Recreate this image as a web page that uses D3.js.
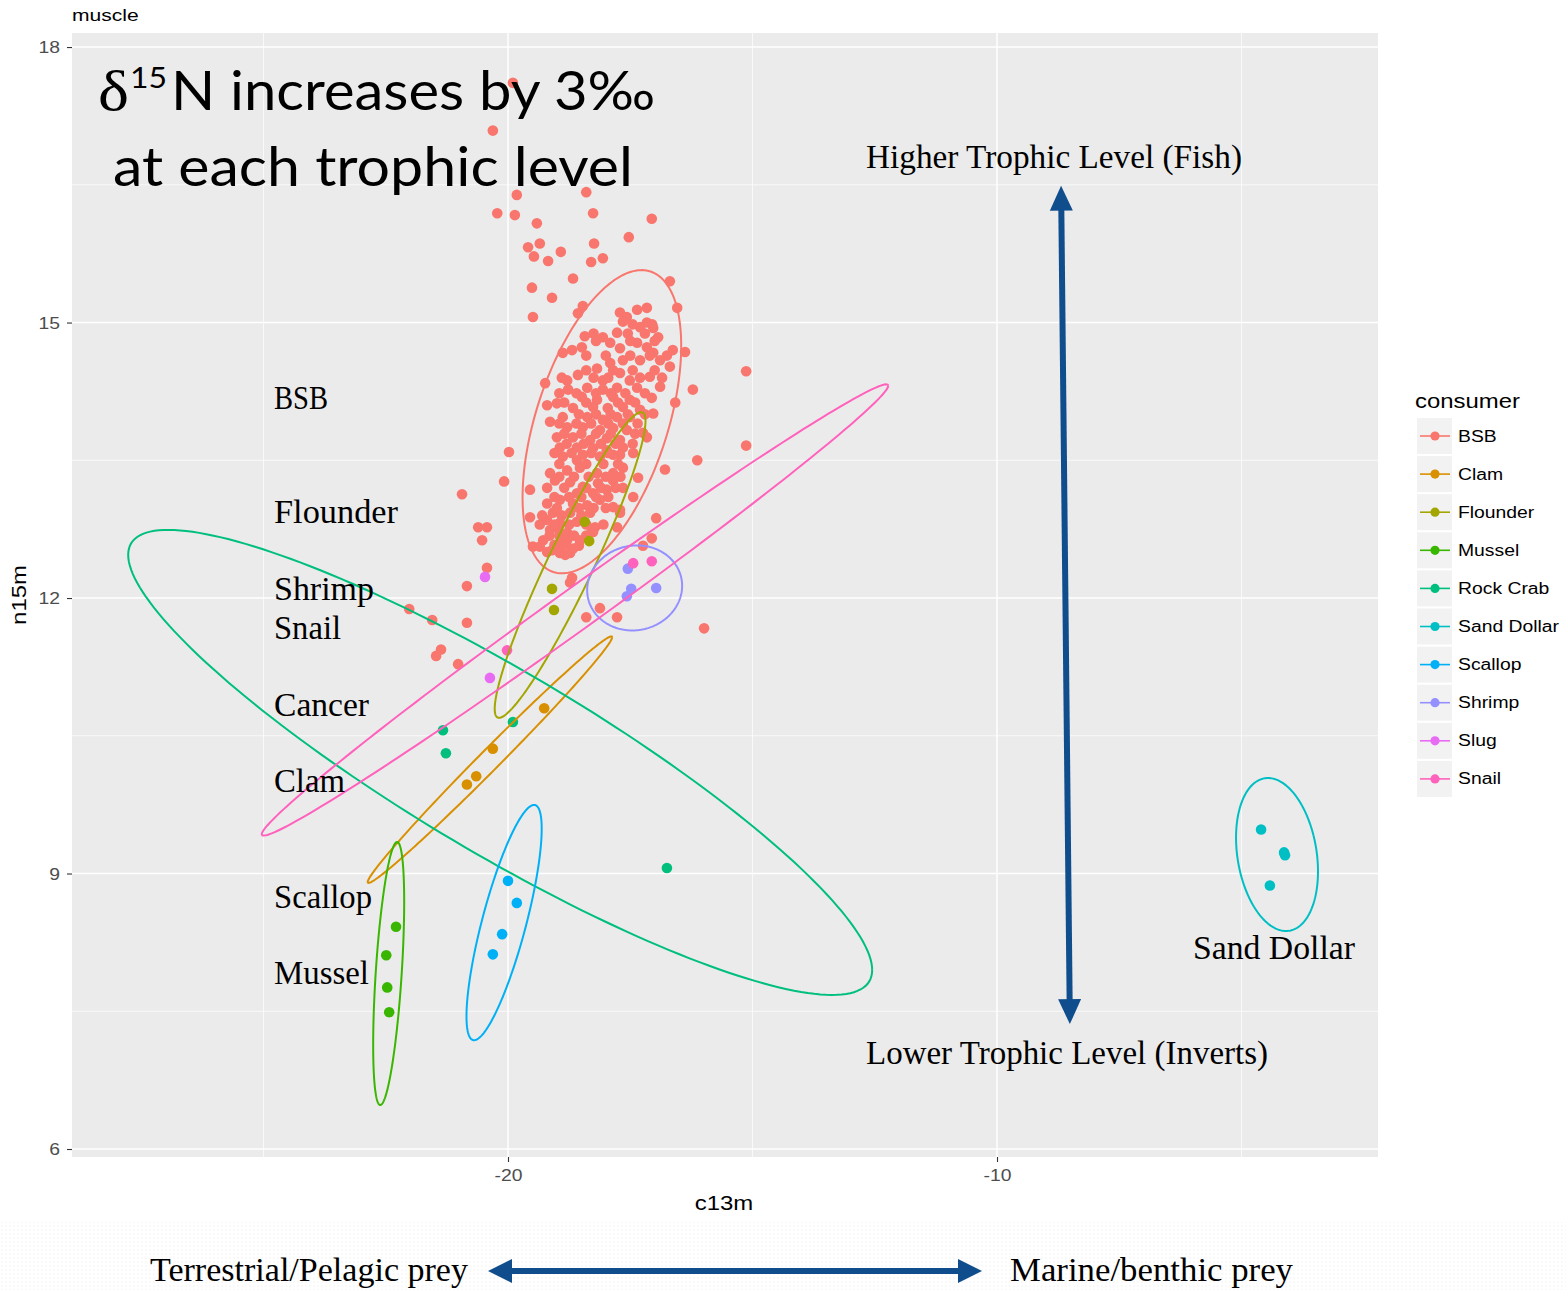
<!DOCTYPE html>
<html><head><meta charset="utf-8">
<script src="https://cdn.jsdelivr.net/npm/d3@7"></script>
<style>body{margin:0;background:#fff}</style>
</head><body>
<svg id="c" width="1566" height="1290"></svg>
<script>
// ---------------- DATA ----------------
const consumers = ["BSB","Clam","Flounder","Mussel","Rock Crab","Sand Dollar","Scallop","Shrimp","Slug","Snail"];
const palette   = ["#F8766D","#D89000","#A3A500","#39B600","#00BF7D","#00BFC4","#00B0F6","#9590FF","#E76BF3","#FF62BC"];

const xTicks = [-20,-10];
const xMinor = [-25,-15,-5];
const yTicks = [6,9,12,15,18];
const yMinor = [7.5,10.5,13.5,16.5];

// c13m, n15m
const bsb = [
 [-19.90,17.61],[-20.31,17.09],[-20.22,16.19],[-19.82,16.39],[-19.86,16.17],[-18.40,16.42],[-18.26,16.19],
 [-19.41,16.08],[-17.06,16.13],[-17.53,15.93],[-19.59,15.82],[-19.35,15.86],[-19.47,15.72],[-19.18,15.67],
 [-18.92,15.77],[-18.24,15.86],[-18.30,15.66],[-18.06,15.70],[-18.67,15.48],[-19.51,15.38],[-19.10,15.27],
 [-16.69,15.45],[-18.47,15.18],[-18.57,15.10],[-19.49,15.06],[-16.54,15.16],[-15.13,14.47],[-16.22,14.27],
 [-15.13,13.66],[-16.13,13.50],[-16.79,13.40],[-19.98,13.59],[-20.08,13.27],[-20.94,13.13],[-20.61,12.77],
 [-20.43,12.77],[-20.53,12.63],[-20.43,12.33],[-20.84,12.13],[-22.02,11.88],[-21.55,11.76],[-20.84,11.73],
 [-21.37,11.44],[-21.47,11.37],[-21.02,11.28],[-16.97,12.87],[-17.06,12.65],[-17.24,12.57],[-18.12,11.89],
 [-17.77,11.79],[-18.40,11.79],[-15.99,11.67],[-18.69,12.22],[-18.73,12.17],[-18.28,12.73],[-18.55,12.57],
 [-17.71,15.11],[-17.57,15.06],[-17.36,15.14],[-17.16,15.16],[-18.43,14.85],[-18.06,14.84],[-17.77,14.89],
 [-17.65,15.01],[-17.30,14.95],[-17.16,15.00],[-17.03,14.94],[-16.93,14.84],[-18.88,14.67],[-18.69,14.70],
 [-18.49,14.73],[-17.91,14.78],[-17.71,14.72],[-17.36,14.78],[-17.16,14.73],[-17.03,14.67],[-16.63,14.70],
 [-16.38,14.68],[-18.18,14.50],[-17.91,14.56],[-17.65,14.59],[-17.30,14.59],[-16.89,14.59],[-16.69,14.52],
 [-19.24,14.34],[-18.79,14.37],[-18.57,14.43],[-18.06,14.37],[-17.71,14.45],[-17.51,14.37],[-17.10,14.41],
 [-16.89,14.30],[-18.77,14.27],[-18.38,14.29],[-18.06,14.27],[-17.77,14.29],[-17.36,14.29],[-18.49,14.19],
 [-18.18,14.16],[-17.85,14.19],[-17.51,14.16],[-17.06,14.18],[-16.58,14.13],[-19.20,14.10],[-19.00,14.12],
 [-18.67,14.07],[-18.26,14.08],[-17.96,14.07],[-17.65,14.08],[-17.30,14.05],[-17.03,14.01],[-19.14,13.92],
 [-18.88,13.97],[-18.38,13.97],[-18.06,13.94],[-17.77,13.97],[-17.51,13.97],[-18.79,13.86],[-18.47,13.86],
 [-18.12,13.83],[-17.85,13.85],[-17.57,13.83],[-17.24,13.80],[-19.00,13.75],[-18.67,13.75],[-18.32,13.72],
 [-17.98,13.74],[-17.71,13.72],[-17.16,13.75],[-18.94,13.64],[-18.59,13.64],[-18.26,13.63],[-17.98,13.61],
 [-17.65,13.64],[-18.88,13.54],[-18.47,13.56],[-18.12,13.54],[-17.71,13.56],[-17.44,13.58],[-18.59,13.50],
 [-17.85,13.56],[-19.14,13.36],[-18.79,13.39],[-18.53,13.42],[-18.18,13.36],[-17.85,13.36],[-17.65,13.42],
 [-19.04,13.28],[-18.73,13.26],[-18.47,13.21],[-18.16,13.25],[-17.85,13.28],[-18.59,13.14],[-18.26,13.14],
 [-17.98,13.18],[-17.65,13.20],[-17.44,13.10],[-19.20,13.03],[-18.94,13.07],[-18.67,13.03],[-18.38,13.01],
 [-18.12,13.07],[-17.85,12.99],[-19.08,12.93],[-18.73,12.93],[-18.32,12.93],[-17.71,12.93],[-19.20,12.85],
 [-18.94,12.82],[-18.59,12.83],[-18.22,12.77],[-17.77,12.77],[-19.14,12.74],[-18.79,12.71],[-18.53,12.63],
 [-18.26,12.72],[-19.28,12.63],[-18.94,12.60],[-19.49,12.56],[-19.10,12.52],[-18.73,12.49],[-19.55,13.18],
 [-19.55,12.88],[-19.35,12.56],[-19.20,12.50],[-18.94,12.49],[-18.83,12.47],[-18.98,12.76],[-18.79,12.63],
 [-18.67,12.54],[-17.71,12.96],[-17.34,13.31],
 [-17.45,14.98],[-17.05,14.98],[-17.55,14.88],[-17.20,14.88],[-18.25,14.88],[-18.20,14.80],[-17.50,14.80],
 [-17.00,14.80],[-18.40,14.64],[-18.00,14.64],[-17.50,14.64],[-17.10,14.64],[-16.75,14.64],[-18.40,14.48],
 [-17.85,14.48],[-17.45,14.48],[-17.00,14.48],[-18.90,14.40],[-18.25,14.40],[-17.95,14.40],[-17.30,14.40],
 [-16.85,14.40],[-18.95,14.23],[-18.60,14.23],[-18.20,14.23],[-17.90,14.23],[-17.60,14.23],[-17.20,14.23],
 [-18.85,14.13],[-18.40,14.13],[-17.75,14.13],[-17.40,14.13],[-18.55,14.00],[-18.20,14.00],[-17.90,14.00],
 [-17.55,14.00],[-17.20,14.00],[-18.95,13.90],[-18.60,13.90],[-18.30,13.90],[-17.95,13.90],[-17.65,13.90],
 [-17.35,13.90],[-18.85,13.79],[-18.50,13.79],[-18.20,13.79],[-17.90,13.79],[-17.40,13.79],[-18.80,13.68],
 [-18.45,13.68],[-18.10,13.68],[-17.80,13.68],[-17.45,13.68],[-19.05,13.58],[-18.70,13.58],[-18.30,13.58],
 [-17.95,13.58],[-18.95,13.46],[-18.40,13.46],[-18.05,13.46],[-17.75,13.46],[-18.95,13.32],[-18.65,13.32],
 [-18.35,13.32],[-18.00,13.32],[-17.70,13.32],[-19.20,13.20],[-18.85,13.20],[-18.40,13.20],[-18.10,13.20],
 [-17.80,13.20],[-19.05,13.10],[-18.75,13.10],[-18.50,13.10],[-18.20,13.10],[-17.95,13.10],[-19.00,12.98],
 [-18.55,12.98],[-18.25,12.98],[-18.00,12.98],[-19.30,12.90],[-18.90,12.90],[-18.50,12.90],[-19.35,12.80],
 [-19.05,12.80],[-18.75,12.80],[-18.40,12.80],[-18.05,12.80],[-19.15,12.68],[-18.95,12.68],[-18.65,12.68],
 [-18.40,12.68],[-19.05,12.58],[-18.85,12.58]
];
const clam      = [[-19.26,10.80],[-20.31,10.36],[-20.65,10.06],[-20.84,9.97]];
const flounder  = [[-18.43,12.83],[-18.34,12.62],[-19.10,12.10],[-19.06,11.87]];
const mussel    = [[-22.29,8.42],[-22.49,8.11],[-22.47,7.76],[-22.43,7.49]];
const rockCrab  = [[-21.33,10.56],[-21.27,10.31],[-19.90,10.65],[-16.75,9.06]];
const sandDollar= [[-4.60,9.48],[-4.13,9.23],[-4.11,9.20],[-4.42,8.87]];
const scallop   = [[-20.00,8.92],[-19.82,8.68],[-20.12,8.34],[-20.31,8.12]];
const shrimp    = [[-17.55,12.32],[-17.48,12.10],[-17.57,12.02],[-16.97,12.11]];
const slug      = [[-20.47,12.23],[-20.37,11.13]];
const snail     = [[-17.44,12.38],[-17.06,12.40],[-20.02,11.43]];
const pointSets = [bsb, clam, flounder, mussel, rockCrab, sandDollar, scallop, shrimp, slug, snail];

// ellipse (95% normal) summaries per consumer: centre, half-extent in x and y, correlation
const ellCx = [-18.08,-20.37,-18.73,-22.44,-20.16,-4.274,-20.08,-17.41,null,-18.63];
const ellCy = [13.92,10.24,12.36,7.911,10.21,9.207,8.466,12.11,null,11.87];
const ellSx = [1.622,2.499,1.542,0.317,7.607,0.838,0.769,0.971,null,6.405];
const ellSy = [1.651,1.342,1.664,1.432,2.532,0.833,1.281,0.463,null,2.457];
const ellR  = [0.50,0.993,0.942,0.543,-0.8925,-0.22,0.797,0.05,null,0.9937];

// ---------------- DRAW ----------------
const svg = d3.select("#c");
const P = {l:72, r:1378, t:33, b:1157};
const x = d3.scaleLinear().domain([-28.916,-2.209]).range([P.l,P.r]);
const y = d3.scaleLinear().domain([5.913,18.153]).range([P.b,P.t]);
const color = d3.scaleOrdinal().domain(consumers).range(palette);
const SX = 1.24; // horizontal stretch of the reference's text
const SANS = "'Liberation Sans', Arial, Helvetica, sans-serif";
const SERIF = "'Liberation Serif', 'Times New Roman', serif";
const PR = 5.3;

svg.append("rect").attr("width",1566).attr("height",1290).attr("fill","#fff");

// bottom faint texture band
const pat = svg.append("defs").append("pattern").attr("id","dots").attr("width",4).attr("height",4).attr("patternUnits","userSpaceOnUse");
pat.append("rect").attr("width",4).attr("height",4).attr("fill","#fff");
pat.append("circle").attr("cx",2).attr("cy",2).attr("r",0.8).attr("fill","#f3f3f3");
svg.append("rect").attr("x",0).attr("y",1222).attr("width",1566).attr("height",68).attr("fill","url(#dots)");

// panel
svg.append("rect").attr("x",P.l).attr("y",P.t).attr("width",P.r-P.l).attr("height",P.b-P.t).attr("fill","#EBEBEB");
const grid = svg.append("g");
grid.selectAll(".vmin").data(xMinor).join("line").attr("x1",d=>x(d)).attr("x2",d=>x(d)).attr("y1",P.t).attr("y2",P.b).attr("stroke","#fff").attr("stroke-width",0.7);
grid.selectAll(".hmin").data(yMinor).join("line").attr("y1",d=>y(d)).attr("y2",d=>y(d)).attr("x1",P.l).attr("x2",P.r).attr("stroke","#fff").attr("stroke-width",0.7);
grid.selectAll(".vmaj").data(xTicks).join("line").attr("x1",d=>x(d)).attr("x2",d=>x(d)).attr("y1",P.t).attr("y2",P.b).attr("stroke","#fff").attr("stroke-width",1.5);
grid.selectAll(".hmaj").data(yTicks).join("line").attr("y1",d=>y(d)).attr("y2",d=>y(d)).attr("x1",P.l).attr("x2",P.r).attr("stroke","#fff").attr("stroke-width",1.5);

// axes
const yAxis = svg.append("g").attr("transform",`translate(${P.l},0)`)
  .call(d3.axisLeft(y).tickValues(yTicks).tickSize(5).tickPadding(0).tickFormat(d=>String(d)));
const xAxis = svg.append("g").attr("transform",`translate(0,${P.b})`)
  .call(d3.axisBottom(x).tickValues(xTicks).tickSize(5).tickPadding(0).tickFormat(d=>String(d)));
[yAxis,xAxis].forEach(a=>{
  a.select(".domain").remove();
  a.selectAll(".tick line").attr("stroke","#333").attr("stroke-width",1.1);
  a.selectAll(".tick text").attr("fill","#4D4D4D").attr("font-family",SANS).attr("font-size",15.6);
});
yAxis.selectAll(".tick text").attr("x",null).attr("dy",null).attr("transform",`translate(-12,5.5) scale(${SX},1)`);
xAxis.selectAll(".tick text").attr("y",null).attr("dy",null).attr("transform",`translate(0,24) scale(${SX},1)`);

function stext(sel, px, py, str, size, anchor, extra){
  const t = sel.append("text").attr("transform",`translate(${px},${py}) ${extra||""} scale(${SX},1)`)
    .attr("font-family",SANS).attr("font-size",size).attr("text-anchor",anchor||"start").attr("fill","#000").text(str);
  return t;
}
stext(svg,72,21,"muscle",17);
stext(svg,724,1210,"c13m",19.3,"middle");
stext(svg,26,595,"n15m",19.3,"middle","rotate(-90)");

// points
const pts = svg.append("g");
consumers.forEach((c,i)=>{
  pts.selectAll(null).data(pointSets[i]).join("circle")
    .attr("cx",d=>x(d[0])).attr("cy",d=>y(d[1])).attr("r",PR).attr("fill",color(c));
});

// ellipses
const line = d3.line().x(d=>x(d[0])).y(d=>y(d[1]));
const tSteps = d3.range(0,201).map(k=>k/200*2*Math.PI);
consumers.forEach((c,i)=>{
  if(ellCx[i]===null) return;
  const q = Math.sqrt(1-ellR[i]*ellR[i]);
  const path = tSteps.map(t=>[ellCx[i]+ellSx[i]*Math.cos(t), ellCy[i]+ellSy[i]*(ellR[i]*Math.cos(t)+q*Math.sin(t))]);
  svg.append("path").attr("d",line(path)).attr("fill","none").attr("stroke",color(c)).attr("stroke-width",2);
});

// legend
const lg = svg.append("g");
stext(lg,1415,408,"consumer",19.3);
consumers.forEach((c,i)=>{
  const cy = 436 + i*38.1;
  lg.append("rect").attr("x",1417).attr("y",cy-18).attr("width",35).attr("height",36).attr("fill","#F2F2F2");
  lg.append("line").attr("x1",1420).attr("x2",1450).attr("y1",cy).attr("y2",cy).attr("stroke",color(c)).attr("stroke-width",1.6);
  lg.append("circle").attr("cx",1435).attr("cy",cy).attr("r",4.6).attr("fill",color(c));
  stext(lg,1458,cy+5.5,c,15.6);
});

// ---------------- ANNOTATIONS (slide overlay) ----------------
const ann = svg.append("g");
function serif(px,py,str,w,size){
  ann.append("text").attr("x",px).attr("y",py).attr("font-family",SERIF).attr("font-size",size||33)
    .attr("textLength",w).attr("lengthAdjust","spacingAndGlyphs").attr("fill","#000").text(str);
}
serif(274,409,"BSB",54);
serif(274,523,"Flounder",124);
serif(274,600,"Shrimp",100);
serif(274,639,"Snail",67);
serif(274,716,"Cancer",95);
serif(274,792,"Clam",71);
serif(274,908,"Scallop",98);
serif(274,984,"Mussel",95);
serif(866,168,"Higher Trophic Level (Fish)",376);
serif(866,1064,"Lower Trophic Level (Inverts)",402);
serif(1193,959,"Sand Dollar",162);
serif(150,1281,"Terrestrial/Pelagic prey",318);
serif(1010,1281,"Marine/benthic prey",283);

// big heading
const BIG = "Lato, 'Open Sans', sans-serif";
ann.append("text").attr("x",98).attr("y",110).attr("font-family",SERIF).attr("font-size",56).attr("textLength",31).attr("lengthAdjust","spacingAndGlyphs").text("δ");
ann.append("text").attr("x",130).attr("y",88).attr("font-family",BIG).attr("font-size",28).attr("textLength",37).attr("lengthAdjust","spacingAndGlyphs").text("15");
ann.append("text").attr("x",171).attr("y",110).attr("font-family",BIG).attr("font-size",54).attr("textLength",484).attr("lengthAdjust","spacingAndGlyphs").text("N increases by 3‰");
ann.append("text").attr("x",113).attr("y",186).attr("font-family",BIG).attr("font-size",54).attr("textLength",520).attr("lengthAdjust","spacingAndGlyphs").text("at each trophic level");

// arrows
const BLUE = "#0F4D8D";
function dblArrow(x1,y1,x2,y2,hl,hw,sw){
  const dx=x2-x1, dy=y2-y1, L=Math.hypot(dx,dy), ux=dx/L, uy=dy/L, px=-uy, py=ux;
  ann.append("line").attr("x1",x1+ux*hl*0.9).attr("y1",y1+uy*hl*0.9).attr("x2",x2-ux*hl*0.9).attr("y2",y2-uy*hl*0.9)
    .attr("stroke",BLUE).attr("stroke-width",sw);
  const head=(tx,ty,s)=>[[tx,ty],[tx-s*ux*hl+px*hw,ty-s*uy*hl+py*hw],[tx-s*ux*hl-px*hw,ty-s*uy*hl-py*hw]];
  [head(x2,y2,1),head(x1,y1,-1)].forEach(h=>ann.append("polygon").attr("points",h.map(p=>p.join(",")).join(" ")).attr("fill",BLUE));
}
dblArrow(x(-8.69),y(16.49),x(-8.51),y(7.36),25,11.5,6);
dblArrow(488,1271,982,1271,24,12,6);
</script>
</body></html>
